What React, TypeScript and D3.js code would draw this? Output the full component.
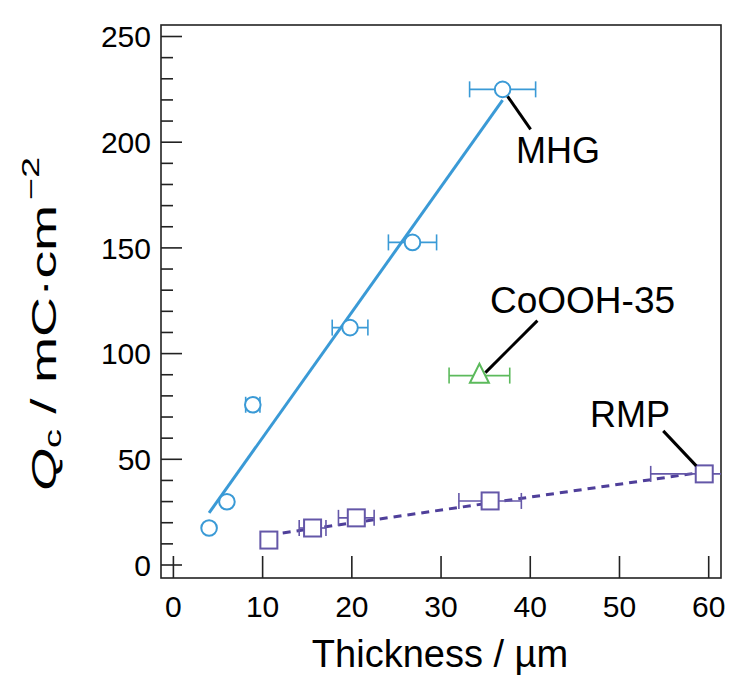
import React from 'react';
import * as d3 from 'd3';

const xTicks = [0, 10, 20, 30, 40, 50, 60];
const yTicks = [0, 50, 100, 150, 200, 250];

const mhgX = [4, 6, 8.9, 19.8, 26.8, 36.9];
const mhgY = [17.5, 29.9, 75.8, 112.3, 152.6, 225];
const mhgErr = [0, 0, 0.8, 2.0, 2.7, 3.7];

const coX = [34.3];
const coY = [89.6];
const coErr = [3.4];

const rmpX = [10.7, 15.6, 20.5, 35.5, 59.5];
const rmpY = [11.8, 17.5, 22.3, 30.3, 43.1];
const rmpErr = [0, 1.5, 2.0, 3.5, 6.0];

const BLUE = '#3a9ad6';
const GREEN = '#5cba5c';
const PURPLE = '#6457a8';
const PURPLE_DARK = '#4f3f9a';
const FONT = 'Liberation Sans, Arial, Helvetica, sans-serif';

function fit(xs: number[], ys: number[]) {
  const mx = d3.mean(xs)!;
  const my = d3.mean(ys)!;
  let sxx = 0, sxy = 0;
  xs.forEach((x, i) => { sxx += (x - mx) * (x - mx); sxy += (x - mx) * (ys[i] - my); });
  const b = sxy / sxx;
  const a = my - b * mx;
  return (x: number) => a + b * x;
}

export default function App() {
  const W = 729, H = 675;
  const x = d3.scaleLinear().domain([0, 60]).range([173.4, 708.7]);
  const y = d3.scaleLinear().domain([0, 250]).range([565, 36.5]);
  const left = 161, right = 721, top = 25, bottom = 578;
  const minor = y.ticks(25).filter(v => !yTicks.includes(v));

  const mhgFit = fit(mhgX, mhgY);
  const rmpFit = fit(rmpX, rmpY);
  const mhgLine = d3.line<number>().x(v => x(v)).y(v => y(mhgFit(v)));
  const rmpLine = d3.line<number>().x(v => x(v)).y(v => y(rmpFit(v)));

  const errBar = (xs: number[], ys: number[], es: number[], color: string, key: string) =>
    xs.map((xv, i) => es[i] > 0 ? (
      <g key={key + i} stroke={color} strokeWidth={1.6} fill="none">
        <line x1={x(xv - es[i])} x2={x(xv + es[i])} y1={y(ys[i])} y2={y(ys[i])} />
        <line x1={x(xv - es[i])} x2={x(xv - es[i])} y1={y(ys[i]) - 8} y2={y(ys[i]) + 8} />
        <line x1={x(xv + es[i])} x2={x(xv + es[i])} y1={y(ys[i]) - 8} y2={y(ys[i]) + 8} />
      </g>
    ) : null);

  const triPath = (cx: number, cy: number, s: number) =>
    `M${cx},${cy - s * 0.62}L${cx + s / 2},${cy + s * 0.38}L${cx - s / 2},${cy + s * 0.38}Z`;

  return (
    <svg width={W} height={H} style={{ position: 'absolute', left: 0, top: 0, background: '#fff' }}
      fontFamily={FONT}>
      <defs>
        <clipPath id="plot"><rect x={left} y={top} width={right - left} height={bottom - top} /></clipPath>
      </defs>
      {/* frame */}
      <rect x={left} y={top} width={right - left} height={bottom - top} fill="none" stroke="#222" strokeWidth={1.6} />
      {/* y ticks */}
      {yTicks.map(v => (
        <g key={'yt' + v}>
          <line x1={left} x2={left + 21} y1={y(v)} y2={y(v)} stroke="#222" strokeWidth={1.6} />
          <text x={151} y={y(v)} dy="0.36em" textAnchor="end" fontSize={30}>{v}</text>
        </g>
      ))}
      {minor.map(v => (
        <line key={'ym' + v} x1={left} x2={left + 12} y1={y(v)} y2={y(v)} stroke="#222" strokeWidth={1.6} />
      ))}
      {/* x ticks */}
      {xTicks.map(v => (
        <g key={'xt' + v}>
          <line x1={x(v)} x2={x(v)} y1={bottom} y2={bottom - 22} stroke="#222" strokeWidth={1.6} />
          <text x={x(v)} y={617} textAnchor="middle" fontSize={30}>{v}</text>
        </g>
      ))}
      {/* axis titles */}
      <text x={440} y={667} textAnchor="middle" fontSize={38}>Thickness / µm</text>
      <text transform={`translate(56,${324}) rotate(-90) scale(1.58,1)`} textAnchor="middle" fontSize={35}>
        <tspan fontStyle="italic">Q</tspan>
        <tspan fontSize={24} dy={5}>c</tspan>
        <tspan dy={-5}> / mC·cm</tspan>
        <tspan fontSize={24} dy={-17} dx={3}>−2</tspan>
      </text>

      <g clipPath="url(#plot)">
        {/* fit lines */}
        <path d={mhgLine([d3.min(mhgX)!, d3.max(mhgX)!]) || ''} stroke={BLUE} strokeWidth={3} fill="none" />
        <path d={rmpLine([d3.min(rmpX)!, d3.max(rmpX)!]) || ''} stroke={PURPLE_DARK} strokeWidth={3}
          strokeDasharray="8,6" fill="none" />
        {errBar(mhgX, mhgY, mhgErr, BLUE, 'me')}
        {errBar(coX, coY, coErr, GREEN, 'ce')}
        {errBar(rmpX, rmpY, rmpErr, PURPLE, 're')}
        {mhgX.map((xv, i) => (
          <circle key={'mc' + i} cx={x(xv)} cy={y(mhgY[i])} r={7.8} fill="#fff" stroke={BLUE} strokeWidth={2} />
        ))}
        {coX.map((xv, i) => (
          <path key={'ct' + i} d={triPath(x(xv), y(coY[i]), 19)} fill="#fff" stroke={GREEN} strokeWidth={2} />
        ))}
        {rmpX.map((xv, i) => (
          <rect key={'rs' + i} x={x(xv) - 8.5} y={y(rmpY[i]) - 8.5} width={17} height={17} fill="#fff"
            stroke={PURPLE} strokeWidth={2} />
        ))}
      </g>

      {/* annotations */}
      <line x1={x(mhgX[5]) + 5} y1={y(mhgY[5]) + 7} x2={x(mhgX[5]) + 28} y2={y(mhgY[5]) + 40} stroke="#000" strokeWidth={3} />
      <text x={516} y={163} fontSize={36}>MHG</text>
      <line x1={x(coX[0]) + 6} y1={y(coY[0]) - 3} x2={x(coX[0]) + 58} y2={y(coY[0]) - 55} stroke="#000" strokeWidth={3} />
      <text x={490} y={313} fontSize={37}>CoOOH-35</text>
      <line x1={x(rmpX[4]) - 8} y1={y(rmpY[4]) - 8} x2={x(rmpX[4]) - 41} y2={y(rmpY[4]) - 43} stroke="#000" strokeWidth={3} />
      <text x={590} y={427} fontSize={36}>RMP</text>
    </svg>
  );
}
